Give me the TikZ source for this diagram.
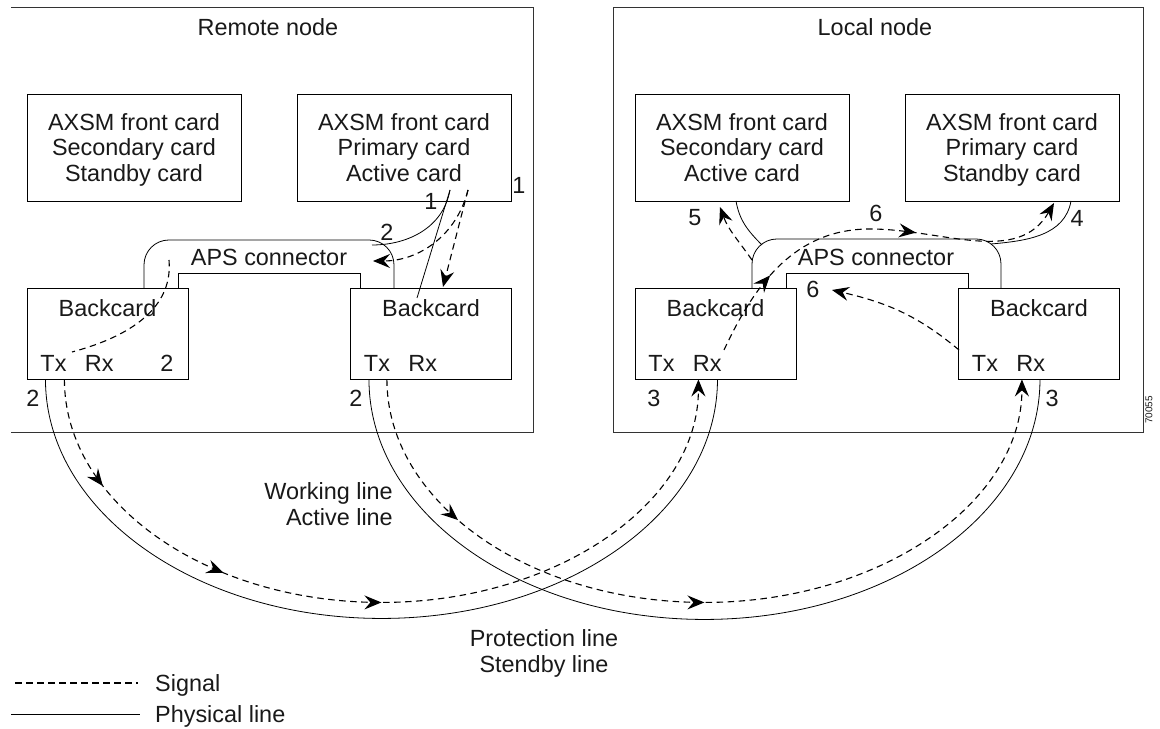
\documentclass[tikz,border=0pt]{standalone}
\usepackage{fontspec}
\setmainfont{Liberation Sans}
\usetikzlibrary{arrows.meta,decorations.markings}

\begin{document}
\begin{tikzpicture}[x=1bp, y=1bp,
  every node/.style={font=\fontsize{23.5}{26}\selectfont, inner sep=0pt, text=black!90},
  nodebox/.style={line width=1bp, black!80},
  card/.style={draw, line width=0.9bp, minimum width=214bp, minimum height=107bp, align=center, text depth=0bp},
  backcard/.style={draw, line width=0.9bp, minimum width=161bp, minimum height=91bp},
  phys/.style={line width=0.8bp},
  signal/.style={line width=1.1bp, dash pattern=on 6.5bp off 4.5bp},
  sigtip/.style={-{Stealth[length=17bp, width=14bp, inset=6bp]}},
  arrowat/.style={postaction={decorate, decoration={markings,
      mark=at position #1 with {\arrow{Stealth[length=17bp, width=14bp, inset=6bp]}}}}}
]
  \useasboundingbox (0,0) rectangle (1160,729);

  % Draw the two nodes
  \draw[nodebox] (11,721) -- (533,721) -- (533,296) -- (11,296);
  \draw[nodebox] (613,296) rectangle (1143,721);
  \node (remote) at (268,702) {Remote node};
  \node (local) at (875,702) {Local node};

  % Front cards
  \node[card] (rsec) at (134,581.5) {AXSM front card\\Secondary card\\Standby card};
  \node[card] (rprim) at (404,581.5) {AXSM front card\\Primary card\\Active card};
  \node[card] (lsec) at (742,581.5) {AXSM front card\\Secondary card\\Active card};
  \node[card] (lprim) at (1012,581.5) {AXSM front card\\Primary card\\Standby card};

  % Backcards
  \node[backcard] (rbl) at (107.5,395.5) {};
  \node[backcard] (rbr) at (431,395.5) {};
  \node[backcard] (lbl) at (715.5,395.5) {};
  \node[backcard] (lbr) at (1039,395.5) {};
  \foreach \b in {rbl,rbr,lbl,lbr} {
    \node (\b-name) at ([yshift=-21]\b.north) {Backcard};
    \node (\b-tx) at ([xshift=27,yshift=16]\b.south west) {Tx};
    \node (\b-rx) at ([xshift=73,yshift=16]\b.south west) {Rx};
  }

  % APS connectors
  \draw[phys, rounded corners=25] (144,441) -- (144,489) -- (394,489) -- (394,441);
  \draw[phys] (178,441) -- (178,456) -- (360,456) -- (360,441);
  \node[anchor=base] (raps) at (269,463.6) {APS connector};
  \draw[phys, rounded corners=25] (752,441) -- (752,490) -- (1001,490) -- (1001,441);
  \draw[phys] (786,441) -- (786,456) -- (968,456) -- (968,441);
  \node[anchor=base] (laps) at (876,463.6) {APS connector};

  % Remote node lines
  \coordinate (rout) at (450,539);
  \coordinate (rsig) at (468,539);
  \coordinate (rapsin) at (372,484);
  \coordinate (rapssig) at (373,468);
  \coordinate (rbrin) at (417,431);
  \coordinate (rbrsig) at (443,442);
  \draw[phys] (rout) to[out=-100, in=0] (rapsin);
  \draw[phys] (rout) -- (rbrin);
  \draw[signal, sigtip] (rsig) to[out=-104, in=0] (rapssig);
  \draw[signal, sigtip] (rsig) -- (rbrsig);
  \coordinate (rapsl) at (169,469);
  \coordinate (rbltx) at (72,377);
  \draw[signal] (rapsl) to[out=-85, in=15] (rbltx);

  % Working line and protection line
  \draw[phys] ([xshift=19]rbl.south west) arc[start angle=180, end angle=360, x radius=336, y radius=239];
  \draw[signal, arrowat=0.135, arrowat=0.311, arrowat=0.5, sigtip] ([xshift=38]rbl.south west)
    arc[start angle=180, end angle=360, x radius=317, y radius=223];
  \draw[phys] ([xshift=19]rbr.south west) arc[start angle=180, end angle=360, x radius=335.5, y radius=240];
  \draw[signal, arrowat=0.19, arrowat=0.5, sigtip] ([xshift=37]rbr.south west)
    arc[start angle=180, end angle=360, x radius=317.5, y radius=223];

  % Local node lines
  \coordinate (lsecout) at (736,528);
  \coordinate (lapsl) at (762,484);
  \coordinate (lapsv) at (752,469);
  \coordinate (lsecin) at (720,522);
  \coordinate (lblrx) at (724,379);
  \coordinate (lapstop) at (870,500);
  \coordinate (lprimin) at (1054,526);
  \coordinate (lbrtx) at (959,379);
  \coordinate (lapsin) at (832,439);
  \coordinate (lprimout) at (1071,528);
  \coordinate (lapsr) at (991,485);
  \draw[phys] (lsecout) to[out=-80, in=135] (lapsl);
  \draw[signal, sigtip] (lapsv) to[out=125, in=-70] (lsecin);
  \draw[signal, arrowat=0.22, arrowat=0.62, sigtip] (lblrx) to[out=65, in=180] (lapstop)
    to[out=0, in=-120] (lprimin);
  \draw[signal, sigtip] (lbrtx) to[out=140, in=-13] (lapsin);
  \draw[phys] (lprimout) to[out=-100, in=5] (lapsr);

  % Step numbers
  \node (n1a) at (519,544) {1};
  \node (n1b) at (431,528) {1};
  \node (n2a) at (387,497) {2};
  \node (n2b) at (167,366) {2};
  \node (n2c) at (33,331) {2};
  \node (n2d) at (356,331) {2};
  \node (n3a) at (654,331) {3};
  \node (n3b) at (1052,331) {3};
  \node (n4) at (1077,511) {4};
  \node (n5) at (695,511) {5};
  \node (n6a) at (876,516) {6};
  \node (n6b) at (813,440) {6};

  % Line names
  \node[align=right, anchor=east] (working) at (393,225) {Working line\\Active line};
  \node[align=center] (protect) at (544,76) {Protection line\\Stendby line};
  \node[rotate=90, font=\fontsize{10}{12}\selectfont] (fignum) at (1149,319) {70055};

  % Legend
  \node[anchor=base west] (sigkey) at (155,37.6) {Signal};
  \node[anchor=base west] (physkey) at (155,6.6) {Physical line};
  \draw[signal] (15,46) -- ([xshift=-17]sigkey.west |- 0,46);
  \draw[phys] (11,15) -- (140,15);
\end{tikzpicture}
\end{document}
